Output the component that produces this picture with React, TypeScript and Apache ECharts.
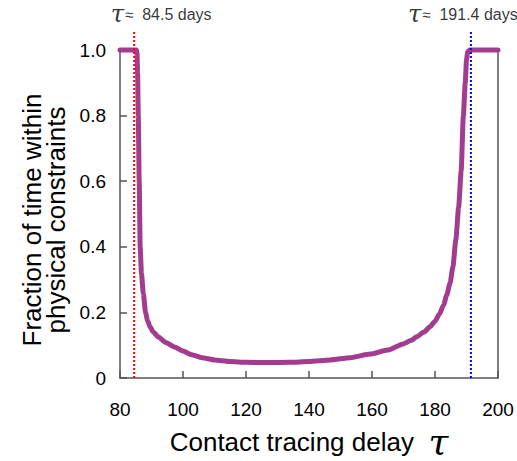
import React, { useEffect, useRef } from "react";
import * as echarts from "echarts";

// Data
const delay = [80, 85.2, 85.4, 85.6, 85.8, 86.1, 86.4, 86.8, 87.4, 88.1, 88.8, 89.5, 90.5, 92.2, 94.5, 97.5, 100, 102.8, 106, 110, 115, 120, 127, 134, 140, 146.7, 153, 159.4, 165, 169.9, 172.5, 174.2, 176.5, 178.4, 180, 181.4, 182.7, 183.7, 184.8, 185.7, 186.6, 187.5, 188.3, 189.0, 189.6, 190.0, 190.4, 191, 200];
const fraction = [1, 1, 0.99, 0.93, 0.8, 0.6, 0.4, 0.32, 0.258, 0.2, 0.174, 0.157, 0.141, 0.125, 0.108, 0.094, 0.082, 0.071, 0.062, 0.055, 0.05, 0.048, 0.047, 0.048, 0.05, 0.055, 0.062, 0.073, 0.085, 0.104, 0.115, 0.126, 0.14, 0.156, 0.173, 0.195, 0.222, 0.252, 0.29, 0.34, 0.42, 0.52, 0.63, 0.8, 0.9, 0.97, 0.995, 1, 1];
const thresholds = [84.5, 191.4];
const thresholdTexts = ["84.5 days", "191.4 days"];
const thresholdColors = ["#ff0000", "#0000ff"];
const thresholdLabelOffsets = [27, -8];
const thresholdTop = 1.061;
const xTicks = { min: 80, max: 200, interval: 20 };
const yTicks = { min: 0, max: 1, interval: 0.2 };

const AXIS_COLOR = "#555";
const TEXT_COLOR = "#000";
const FONT = "Liberation Sans, Arial, sans-serif";

export default function App() {
  const ref = useRef<HTMLDivElement>(null);
  useEffect(() => {
    if (!ref.current) return;
    const chart = echarts.init(ref.current, undefined, { renderer: "svg" });
    const curve = delay.map((d, i) => [d, fraction[i]]);
    const thresholdSeries = thresholds.map((t, i) => ({
      type: "line",
      data: [[t, 0], [t, thresholdTop]],
      symbol: "none",
      clip: false,
      z: 5,
      lineStyle: { color: thresholdColors[i], width: 2, type: [2, 2] },
      silent: true,
    }));
    const labelSeries = {
      type: "scatter",
      data: thresholds.map((t, i) => ({
        value: [t, thresholdTop],
        label: {
          show: true,
          position: "top",
          distance: 5,
          offset: [thresholdLabelOffsets[i], 0],
          formatter: "{t|\u03C4}{a|\u2248}  " + thresholdTexts[i],
        },
      })),
      symbolSize: 1,
      clip: false,
      itemStyle: { color: "transparent" },
      label: {
        color: TEXT_COLOR,
        fontSize: 16,
        fontFamily: FONT,
        lineHeight: 20,
        rich: {
          t: { fontSize: 24, lineHeight: 20, fontStyle: "italic", fontFamily: "DejaVu Serif", color: TEXT_COLOR },
          a: { fontSize: 15, lineHeight: 20, fontFamily: FONT, color: TEXT_COLOR, padding: [0, 0, 0, 1] },
        },
      },
      silent: true,
    };
    chart.setOption({
      animation: false,
      grid: { left: 120, right: 19, top: 50, bottom: 83, outerBoundsMode: "none", containLabel: false },
      xAxis: {
        type: "value",
        ...xTicks,
        axisLine: { show: true, onZero: false, lineStyle: { color: AXIS_COLOR, width: 1.5 } },
        axisTick: { inside: true, length: 7, lineStyle: { color: AXIS_COLOR, width: 1.5 } },
        axisLabel: { margin: 22, fontSize: 19, color: TEXT_COLOR, fontFamily: FONT },
        splitLine: { show: false },
        name: "Contact tracing delay  {t|\u03C4}",
        nameLocation: "middle",
        nameGap: 48,
        nameTextStyle: {
          fontSize: 26,
          lineHeight: 30,
          color: TEXT_COLOR,
          fontFamily: FONT,
          rich: {
            t: { fontSize: 36, lineHeight: 30, fontStyle: "italic", fontFamily: "DejaVu Serif", color: TEXT_COLOR },
          },
        },
      },
      yAxis: [
        {
          type: "value",
          ...yTicks,
          position: "left",
          axisLine: { show: true, lineStyle: { color: AXIS_COLOR, width: 1.5 } },
          axisTick: { inside: true, length: 7, lineStyle: { color: AXIS_COLOR, width: 1.5 } },
          axisLabel: {
            margin: 14,
            fontSize: 19,
            color: TEXT_COLOR,
            fontFamily: FONT,
            formatter: (v: number) => (v === 0 ? "0" : v.toFixed(1)),
          },
          splitLine: { show: false },
          name: "Fraction of time within\nphysical constraints",
          nameLocation: "middle",
          nameRotate: 90,
          nameGap: 52,
          nameTextStyle: {
            fontSize: 26,
            color: TEXT_COLOR,
            fontFamily: FONT,
            lineHeight: 24,
            padding: [0, 12, 0, 0],
          },
        },
        {
          type: "value",
          ...yTicks,
          position: "right",
          axisLine: { show: true, lineStyle: { color: AXIS_COLOR, width: 1.5 } },
          axisTick: { show: false },
          axisLabel: { show: false },
          splitLine: { show: false },
        },
      ],
      series: [
        {
          type: "line",
          data: curve,
          symbol: "none",
          clip: false,
          smooth: 0.2,
          smoothMonotone: "x",
          z: 3,
          lineStyle: { color: "#a33b8f", width: 5, join: "round", cap: "round" },
          silent: true,
        },
        ...thresholdSeries,
        labelSeries,
      ],
    });
    return () => chart.dispose();
  }, []);
  return (
    <div
      ref={ref}
      style={{ position: "fixed", left: 0, top: 0, width: 517, height: 461, background: "#fff" }}
    />
  );
}
